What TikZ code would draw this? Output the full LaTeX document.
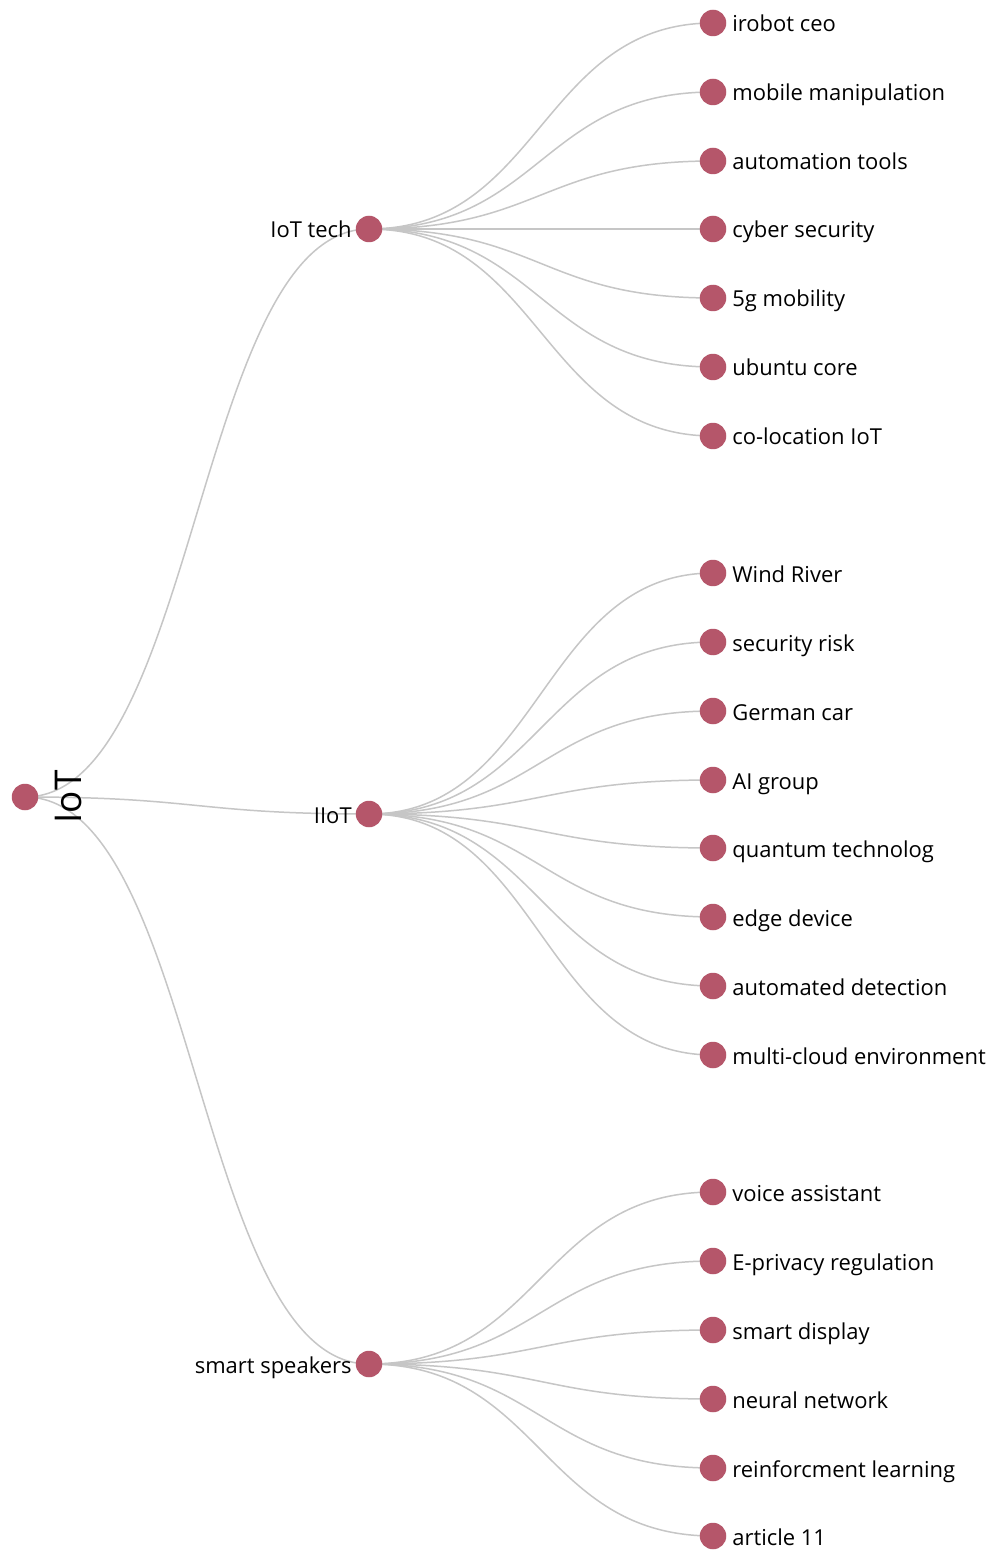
\documentclass[tikz,border=0pt]{standalone}
\usepackage{fontspec}
\setmainfont{Open Sans}
\usetikzlibrary{calc}
\definecolor{dotred}{HTML}{B5566A}
\definecolor{linkgray}{HTML}{C6C6C6}
\begin{document}
\begin{tikzpicture}[x=0.02cm,y=-0.02cm,
  dot/.style={circle,fill=dotred,draw=none,minimum size=0.53cm,inner sep=0pt},
  leaftext/.style={anchor=base west,inner sep=0pt,font=\fontsize{12.5pt}{14pt}\selectfont},
  midtext/.style={anchor=base east,inner sep=0pt,font=\fontsize{12.5pt}{14pt}\selectfont},
  roottext/.style={anchor=base,rotate=90,inner sep=0pt,font=\fontsize{21pt}{24pt}\selectfont},
  link/.style={draw=linkgray,line width=0.85pt,
    to path={let \p1=(\tikztostart), \p2=(\tikztotarget) in
      .. controls ({0.5*\x1+0.5*\x2},\y1) and ({0.5*\x1+0.5*\x2},\y2) .. (\tikztotarget)}}]
\useasboundingbox[fill=white] (0,0) rectangle (994,1550);

% root and second level positions
\coordinate (pr) at (25,797);
\coordinate (pa) at (369,229);
\coordinate (pb) at (369,814);
\coordinate (pc) at (369,1364);

% leaf positions
\foreach \i/\y in {1/23,2/92,3/161,4/229,5/298,6/367,7/436}
  \coordinate (pa\i) at (713,\y);
\foreach \i/\y in {1/573,2/642,3/711,4/780,5/848,6/917,7/986,8/1055}
  \coordinate (pb\i) at (713,\y);
\foreach \i/\y in {1/1192,2/1261,3/1330,4/1399,5/1468,6/1536}
  \coordinate (pc\i) at (713,\y);

% links
\draw[link] (pr) to (pa);
\draw[link] (pr) to (pb);
\draw[link] (pr) to (pc);
\foreach \i in {1,...,7} \draw[link] (pa) to (pa\i);
\foreach \i in {1,...,8} \draw[link] (pb) to (pb\i);
\foreach \i in {1,...,6} \draw[link] (pc) to (pc\i);

% dots
\node[dot] (r) at (pr) {};
\node[dot] (a) at (pa) {};
\node[dot] (b) at (pb) {};
\node[dot] (c) at (pc) {};
\foreach \i in {1,...,7} \node[dot] (a\i) at (pa\i) {};
\foreach \i in {1,...,8} \node[dot] (b\i) at (pb\i) {};
\foreach \i in {1,...,6} \node[dot] (c\i) at (pc\i) {};

% labels
\node[roottext] (rt) at (81,797) {IoT};
\node[midtext] (at) at ($(pa)+(-17,9)$) {IoT tech};
\node[midtext] (bt) at ($(pb)+(-17,9)$) {IIoT};
\node[midtext] (ct) at ($(pc)+(-17,9)$) {smart speakers};

\foreach \i/\t in {1/irobot ceo,2/mobile manipulation,3/automation tools,
  4/cyber security,5/5g mobility,6/ubuntu core,7/co-location IoT}
  \node[leaftext] (a\i t) at ($(pa\i)+(19,9)$) {\t};
\foreach \i/\t in {1/Wind River,2/security risk,3/German car,4/AI group,
  5/quantum technolog,6/edge device,7/automated detection,8/multi-cloud environment}
  \node[leaftext] (b\i t) at ($(pb\i)+(19,9)$) {\t};
\foreach \i/\t in {1/voice assistant,2/E-privacy regulation,3/smart display,
  4/neural network,5/reinforcment learning,6/article 11}
  \node[leaftext] (c\i t) at ($(pc\i)+(19,9)$) {\t};
\end{tikzpicture}
\end{document}
